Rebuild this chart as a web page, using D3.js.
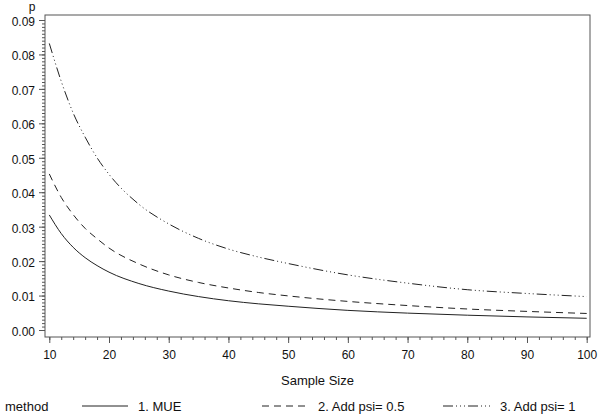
<!DOCTYPE html>
<html>
<head>
<meta charset="utf-8">
<script src="https://cdn.jsdelivr.net/npm/d3@7"></script>
<style>
  body { margin: 0; background: #fff; }
  text { font-family: "Liberation Sans", Arial, sans-serif; fill: #111; white-space: pre; }
</style>
</head>
<body>
<div class="chart"></div>
<script>
// values
var sampleSizes = [10, 12, 14, 16, 18, 20, 25, 30, 35, 40, 45, 50, 60, 70, 80, 90, 100];
var mue     = [0.0334, 0.0280, 0.0240, 0.0210, 0.0187, 0.0168, 0.0135, 0.0113, 0.0097, 0.0085, 0.0076, 0.0069, 0.0057, 0.0049, 0.0043, 0.0038, 0.0034];
var psiHalf = [0.0453, 0.0385, 0.0335, 0.0295, 0.0265, 0.0238, 0.0192, 0.0160, 0.0138, 0.0122, 0.0109, 0.0099, 0.0083, 0.0071, 0.0061, 0.0054, 0.0048];
var psiOne  = [0.0832, 0.0722, 0.0630, 0.0560, 0.0500, 0.0452, 0.0365, 0.0308, 0.0266, 0.0235, 0.0212, 0.0193, 0.0160, 0.0136, 0.0117, 0.0106, 0.0097];
var xTicks = [10, 20, 30, 40, 50, 60, 70, 80, 90, 100];
var yTicks = [0, 0.01, 0.02, 0.03, 0.04, 0.05, 0.06, 0.07, 0.08, 0.09];
var methods = ["1. MUE", "2. Add psi= 0.5", "3. Add psi= 1"];

function chart() {
    var width = 601, height = 417;
    var frame = {left: 45, right: 590, top: 15, bottom: 337};

    var x = d3.scaleLinear()
                .domain([10, 100])
                .range([49.3, 586.7]);

    var y = d3.scaleLinear()
                .domain([0, 0.09])
                .range([330, 20]);

    var svg = d3.select(".chart").append("svg")
            .attr("width", width)
            .attr("height", height);

    var axisColor = "#555";

    // minor ticks
    var xMinor = d3.range(10, 100.1, 2);
    var yMinor = d3.range(0, 91).map(function (d) { return d / 1000; });

    svg.append("g")
            .attr("transform", "translate(0," + frame.bottom + ")")
            .call(d3.axisBottom(x).tickValues(xMinor).tickSize(3).tickFormat(""))
            .call(function (g) { g.select(".domain").remove(); });

    svg.append("g")
            .attr("transform", "translate(" + frame.left + ",0)")
            .call(d3.axisLeft(y).tickValues(yMinor).tickSize(3).tickFormat(""))
            .call(function (g) { g.select(".domain").remove(); });

    // major ticks + labels
    svg.append("g")
            .attr("class", "x axis")
            .attr("transform", "translate(0," + frame.bottom + ")")
            .call(d3.axisBottom(x).tickValues(xTicks).tickSize(6).tickPadding(7))
            .call(function (g) { g.select(".domain").remove(); });

    svg.append("g")
            .attr("class", "y axis")
            .attr("transform", "translate(" + frame.left + ",0)")
            .call(d3.axisLeft(y).tickValues(yTicks).tickSize(6).tickPadding(4).tickFormat(d3.format(".2f")))
            .call(function (g) { g.select(".domain").remove(); });

    svg.selectAll(".tick line").attr("stroke", axisColor);
    svg.selectAll(".tick text").attr("font-size", 12).attr("fill", "#111")
            .attr("font-family", "Liberation Sans, Arial, sans-serif");
    svg.selectAll(".y.axis .tick text").attr("dy", "0.45em");

    // frame
    svg.append("rect")
            .attr("x", frame.left)
            .attr("y", frame.top)
            .attr("width", frame.right - frame.left)
            .attr("height", frame.bottom - frame.top)
            .attr("fill", "none")
            .attr("stroke", axisColor)
            .attr("stroke-width", 1);

    // series
    var styles = [null, "7,5", "10,3,1,3,1,3,1,3"];
    var series = [mue, psiHalf, psiOne];
    var line = d3.line()
            .x(function (d, i) { return x(sampleSizes[i]); })
            .y(function (d) { return y(d); })
            .curve(d3.curveMonotoneX);

    series.forEach(function (s, i) {
        svg.append("path")
                .attr("d", line(s))
                .attr("fill", "none")
                .attr("stroke", "#222")
                .attr("stroke-width", 1)
                .attr("stroke-dasharray", styles[i]);
    });

    // axis titles
    svg.append("text")
            .attr("x", 32).attr("y", 11)
            .attr("text-anchor", "middle")
            .attr("font-size", 12)
            .text("p");

    svg.append("text")
            .attr("x", (frame.left + frame.right) / 2).attr("y", 385)
            .attr("text-anchor", "middle")
            .attr("font-size", 13)
            .text("Sample Size");

    // legend
    var legendY = 411;
    svg.append("text")
            .attr("x", 5).attr("y", legendY)
            .attr("font-size", 13)
            .text("method");

    var legendX = [[82, 128, 138], [262, 310, 318], [443, 493, 500]];
    methods.forEach(function (m, i) {
        svg.append("line")
                .attr("x1", legendX[i][0]).attr("x2", legendX[i][1])
                .attr("y1", legendY - 5).attr("y2", legendY - 5)
                .attr("stroke", "#222")
                .attr("stroke-width", 1)
                .attr("stroke-dasharray", styles[i]);
        svg.append("text")
                .attr("x", legendX[i][2]).attr("y", legendY)
                .attr("font-size", 13)
                .text(m);
    });
}

chart();
</script>
</body>
</html>
